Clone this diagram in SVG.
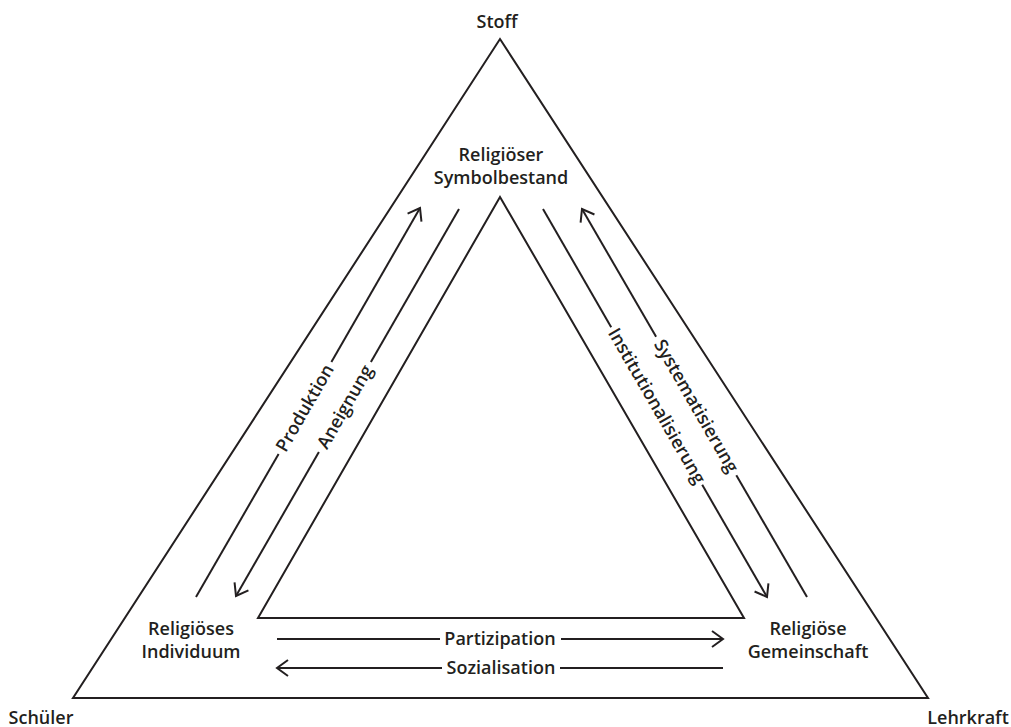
<svg xmlns="http://www.w3.org/2000/svg" width="1011" height="727" viewBox="0 0 1011 727">
<style>
.shape{fill:none;stroke:#231f20;stroke-width:2;stroke-linejoin:miter}
.ln{fill:none;stroke:#231f20;stroke-width:2}
.t{font-family:"Open Sans","Noto Sans",sans-serif;font-weight:600;font-size:18px;fill:#231f20;text-anchor:middle}
</style>
<defs>
<marker id="ah" markerUnits="userSpaceOnUse" markerWidth="30" markerHeight="30" viewBox="-15 -15 30 30" refX="0" refY="0" orient="auto">
<path d="M-11,-8 L0,0 L-11,8" fill="none" stroke="#231f20" stroke-width="2"/>
</marker>
</defs>
<rect width="1011" height="727" fill="#fff"/>
<g id="outer-triangle"><polygon class="shape" points="500,39 928,698 73,698"/></g>
<g id="inner-triangle"><polygon class="shape" points="500,197 744,618 258,618"/></g>
<g id="stoff"><text class="t" x="497" y="28">Stoff</text></g>
<g id="schueler"><text class="t" x="41" y="724">Schüler</text></g>
<g id="lehrkraft"><text class="t" x="968" y="724">Lehrkraft</text></g>
<g id="symbolbestand"><text class="t" x="501" y="161">Religiöser</text><text class="t" x="501" y="184">Symbolbestand</text></g>
<g id="individuum"><text class="t" x="191" y="635">Religiöses</text><text class="t" x="191" y="658">Individuum</text></g>
<g id="gemeinschaft"><text class="t" x="808" y="635">Religiöse</text><text class="t" x="808" y="658">Gemeinschaft</text></g>
<g id="connectors">
<g id="produktion">
<line class="ln" x1="196" y1="597" x2="278.6" y2="453.9"/>
<line class="ln" x1="331.4" y1="362.1" x2="420" y2="208" marker-end="url(#ah)"/>
<text class="t" transform="translate(305,408) rotate(-60)" x="0" y="6">Produktion</text>
</g>
<g id="aneignung">
<line class="ln" x1="459" y1="209" x2="370.9" y2="362"/>
<line class="ln" x1="318.9" y1="452" x2="236" y2="596" marker-end="url(#ah)"/>
<text class="t" transform="translate(345,407) rotate(-60)" x="0" y="6">Aneignung</text>
</g>
<g id="institutionalisierung">
<line class="ln" x1="543" y1="209" x2="611.2" y2="327.2"/>
<line class="ln" x1="702.2" y1="484.8" x2="767" y2="597" marker-end="url(#ah)"/>
<text class="t" transform="translate(656.7,406) rotate(60)" x="0" y="6">Institutionalisierung</text>
</g>
<g id="systematisierung">
<line class="ln" x1="807" y1="597" x2="736.3" y2="475.2"/>
<line class="ln" x1="656.1" y1="336.8" x2="582" y2="209" marker-end="url(#ah)"/>
<text class="t" transform="translate(696.2,406) rotate(60)" x="0" y="6">Systematisierung</text>
</g>
<g id="partizipation">
<line class="ln" x1="277" y1="639" x2="440" y2="639"/>
<line class="ln" x1="561" y1="639" x2="723" y2="639" marker-end="url(#ah)"/>
<text class="t" x="500" y="645">Partizipation</text>
</g>
<g id="sozialisation">
<line class="ln" x1="723" y1="668" x2="560" y2="668"/>
<line class="ln" x1="442" y1="668" x2="277" y2="668" marker-end="url(#ah)"/>
<text class="t" x="501" y="674">Sozialisation</text>
</g>
</g>
</svg>
